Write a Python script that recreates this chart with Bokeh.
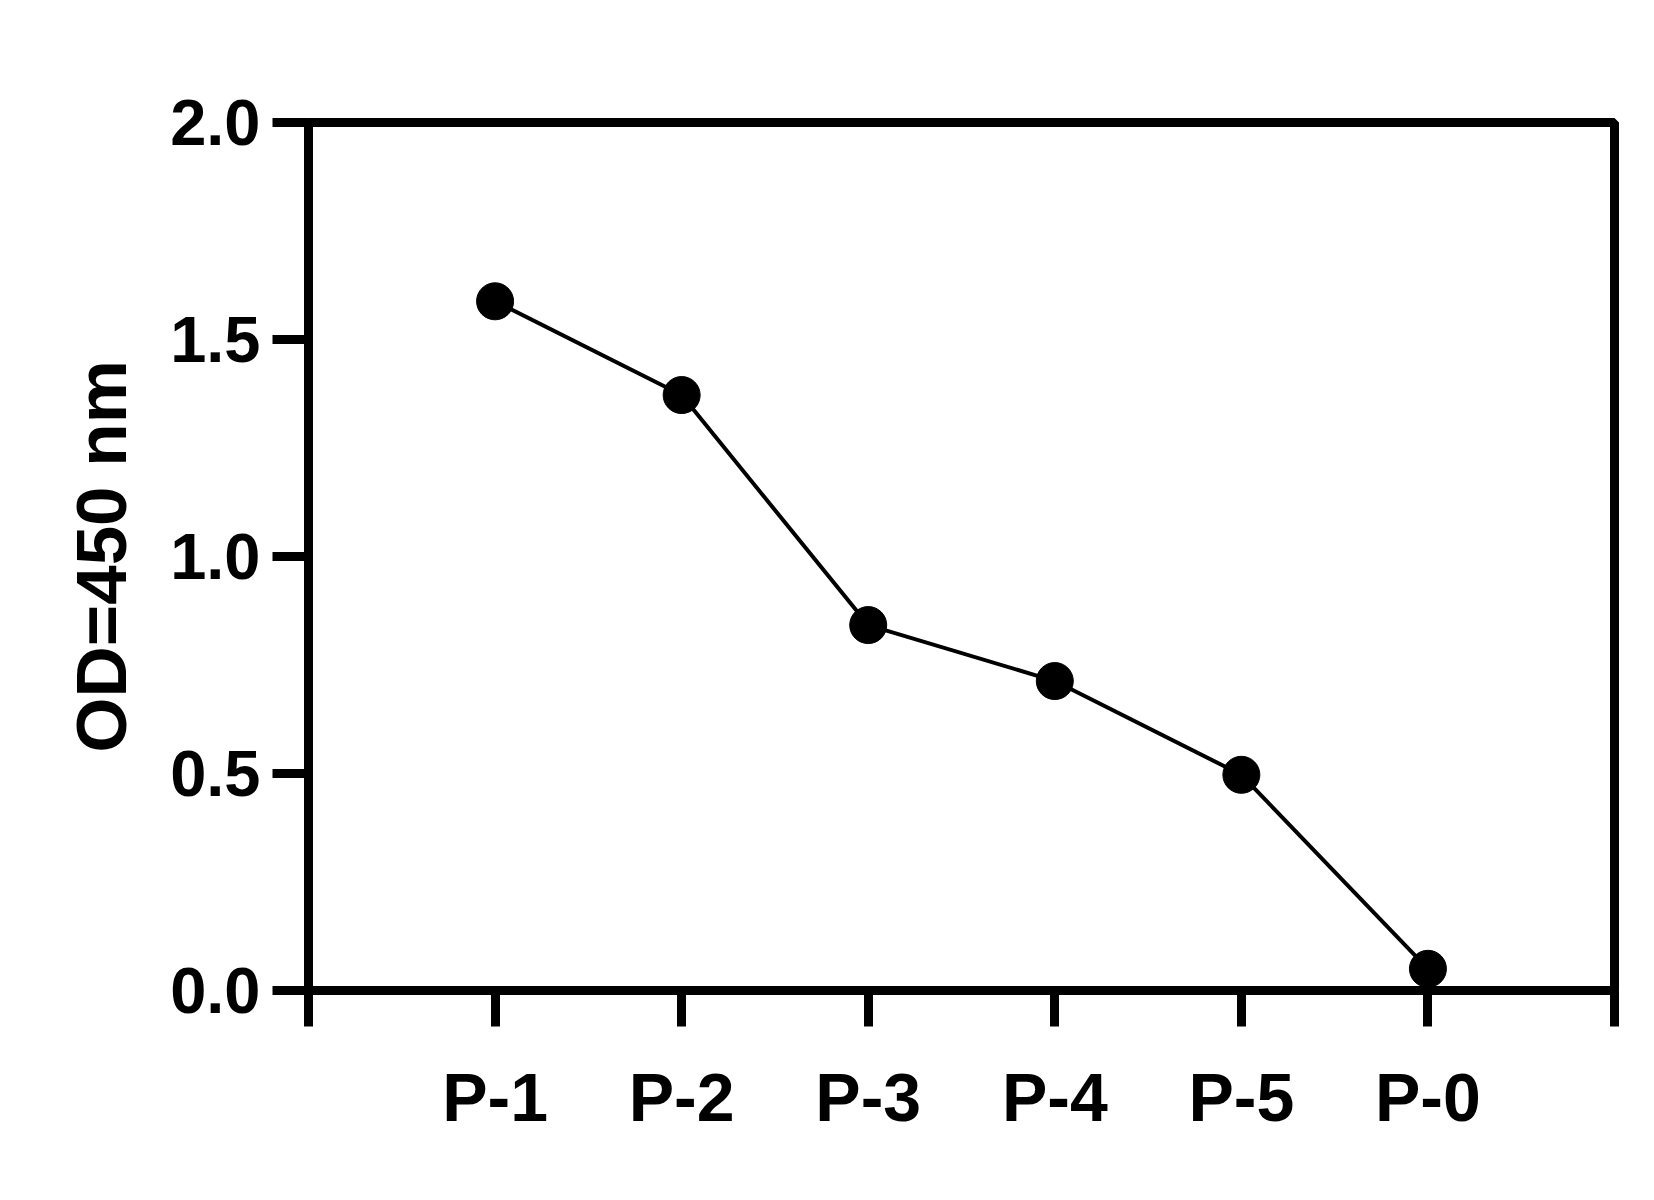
from bokeh.plotting import figure
from bokeh.models import FixedTicker, Range1d
from bokeh.embed import file_html
from bokeh.resources import INLINE

# ---- data ----
categories = ["P-1", "P-2", "P-3", "P-4", "P-5", "P-0"]
od_values = [1.588, 1.372, 0.842, 0.713, 0.497, 0.050]
y_ticks = [0.0, 0.5, 1.0, 1.5, 2.0]
y_tick_labels = ["0.0", "0.5", "1.0", "1.5", "2.0"]
y_title = "OD=450 nm"

x_pos = list(range(1, len(categories) + 1))
x_ticks = list(range(0, len(categories) + 2))

p = figure(width=1638, height=1184,
           x_range=Range1d(0, len(categories) + 1), y_range=Range1d(0, 2),
           output_backend="svg", toolbar_location=None,
           min_border_left=308, min_border_right=24,
           min_border_top=122, min_border_bottom=194)

p.xgrid.visible = False
p.ygrid.visible = False
p.outline_line_color = "black"
p.outline_line_width = 9
p.background_fill_color = "white"
p.border_fill_color = "white"

# x axis
xa = p.xaxis[0]
xa.ticker = FixedTicker(ticks=x_ticks)
overrides = {t: "" for t in x_ticks}
for xp, c in zip(x_pos, categories):
    overrides[xp] = c
xa.major_label_overrides = overrides
xa.axis_line_width = 9
xa.axis_line_color = "black"
xa.major_tick_out = 36
xa.major_tick_in = 0
xa.major_tick_line_width = 9
xa.major_tick_line_color = "black"
xa.minor_tick_line_color = None
xa.major_label_text_font = "Liberation Sans"
xa.major_label_text_font_style = "bold"
xa.major_label_text_font_size = "68px"
xa.major_label_text_color = "black"
xa.major_label_standoff = 32

# y axis
ya = p.yaxis[0]
ya.ticker = FixedTicker(ticks=y_ticks)
ya.major_label_overrides = {t: l for t, l in zip(y_ticks, y_tick_labels)}
ya.axis_line_width = 9
ya.axis_line_color = "black"
ya.major_tick_out = 36
ya.major_tick_in = 0
ya.major_tick_line_width = 9
ya.major_tick_line_color = "black"
ya.minor_tick_line_color = None
ya.major_label_text_font = "Liberation Sans"
ya.major_label_text_font_style = "bold"
ya.major_label_text_font_size = "65px"
ya.major_label_text_color = "black"
ya.major_label_standoff = 12
ya.axis_label = y_title
ya.axis_label_text_font = "Liberation Sans"
ya.axis_label_text_font_style = "bold"
ya.axis_label_text_font_size = "71px"
ya.axis_label_text_color = "black"
ya.axis_label_standoff = 26

p.line(x_pos, od_values, line_width=4, line_color="black")
p.scatter(x_pos, od_values, size=37, fill_color="black", line_color="black")

open("out.html", "w").write(file_html(p, INLINE))
